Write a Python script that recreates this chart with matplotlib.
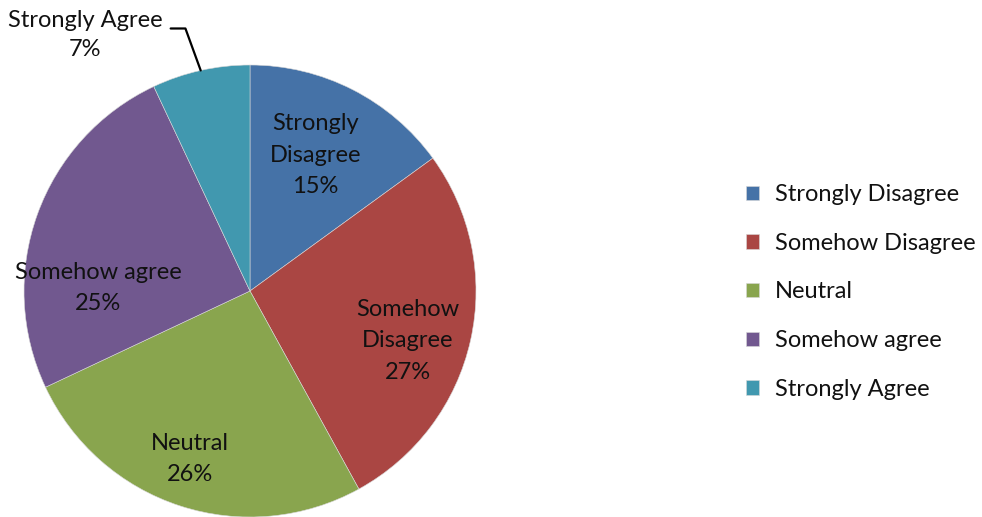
import numpy as np
import matplotlib.pyplot as plt

plt.rcParams['font.family'] = ['Lato', 'DejaVu Sans']

# slice data, clockwise from 12 o'clock
categories = ['Strongly Disagree', 'Somehow Disagree', 'Neutral', 'Somehow agree', 'Strongly Agree']
shares = [15, 27, 26, 25, 7]
slice_labels = ['Strongly\nDisagree\n15%', 'Somehow\nDisagree\n27%', 'Neutral\n26%',
                'Somehow agree\n25%', 'Strongly Agree\n7%']

colors = ['#4572A7', '#AA4643', '#89A54E', '#71588F', '#4198AF']

# where each label sits, in (radius fraction, angle deg)
label_pos = [(0.667, 64.4), (0.733, -17.5), (0.789, -109.6), (0.673, 178.9)]

fig = plt.figure(figsize=(9.82, 5.17), dpi=100)
ax = fig.add_axes([24 / 982, 0, 452 / 982, 452 / 517])

wedges, _ = ax.pie(shares, colors=colors, startangle=90, counterclock=False,
                   wedgeprops=dict(edgecolor='#d8d8d8', linewidth=0.4))
ax.set_xlim(-1, 1)
ax.set_ylim(-1, 1)
ax.set_aspect('equal')
ax.axis('off')

fs = 17
for txt, (r, a) in zip(slice_labels[:4], label_pos):
    ax.text(r * np.cos(np.radians(a)), r * np.sin(np.radians(a)), txt,
            ha='center', va='center', fontsize=fs, color='#111111', linespacing=1.6)

# outside label for the small slice with a leader line
w = wedges[4]
mid = np.radians((w.theta1 + w.theta2) / 2)
edge = (np.cos(mid), np.sin(mid))
ax.annotate(slice_labels[4], xy=edge, xytext=(-0.73, 1.133),
            ha='center', va='center', fontsize=fs, color='#111111', linespacing=1.45,
            annotation_clip=False,
            arrowprops=dict(arrowstyle='-', color='black', lw=1.6, relpos=(1.0, 0.63),
                            shrinkA=4, shrinkB=0,
                            connectionstyle='angle,angleA=0,angleB=110,rad=0'))

fig.legend(wedges, categories, loc='center left', bbox_to_anchor=(725 / 982, 1 - 292 / 517),
           frameon=False, fontsize=fs, handlelength=0.55, handleheight=0.55,
           handletextpad=0.65, labelspacing=1.17, labelcolor='#111111')

plt.savefig('out.png', dpi=100)
